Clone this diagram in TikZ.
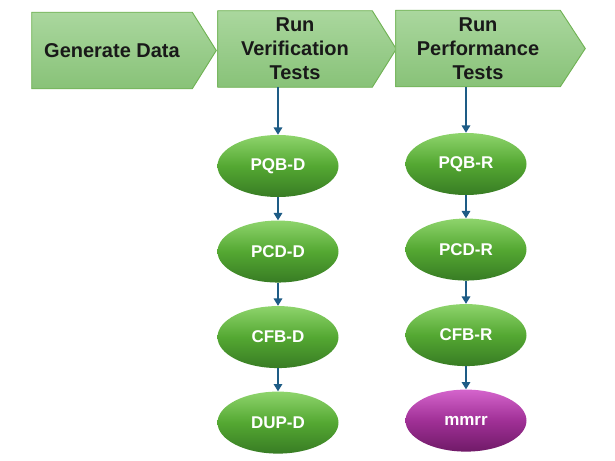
\documentclass[tikz,border=0pt]{standalone}
\usepackage{fontspec}
\setmainfont{Liberation Sans}
\usetikzlibrary{shapes.geometric,positioning,arrows.meta,backgrounds}

\definecolor{stagetop}{RGB}{170,215,158}
\definecolor{stagebot}{RGB}{136,194,120}
\definecolor{stageline}{RGB}{112,178,84}
\definecolor{greentop}{RGB}{142,212,108}
\definecolor{greenmid}{RGB}{84,168,50}
\definecolor{greenbot}{RGB}{56,124,36}
\definecolor{mmrrtop}{RGB}{212,100,204}
\definecolor{mmrrmid}{RGB}{160,48,150}
\definecolor{mmrrbot}{RGB}{112,26,104}
\definecolor{flowline}{RGB}{30,92,134}

\tikzset{
  stagetext/.style={inner sep=0pt, font=\bfseries\fontsize{15pt}{18pt}\selectfont,
    text=black!90, align=center, minimum height=57pt},
  stageshape/.style={draw=stageline, line width=0.7pt, top color=stagetop, bottom color=stagebot},
  task/.style={ellipse, inner sep=0pt, minimum width=90.75pt, minimum height=46.5pt,
    font=\bfseries\fontsize{12.75pt}{15pt}\selectfont, text=white,
    top color=greentop, bottom color=greenbot, middle color=greenmid},
  refrun/.style={task, top color=mmrrtop, bottom color=mmrrbot, middle color=mmrrmid},
  flow/.style={draw=flowline, line width=0.9pt, -{Triangle[width=6.5pt,length=5.5pt]}},
}

\begin{document}
\begin{tikzpicture}[x=0.75pt, y=-0.75pt, node distance=17.25pt]
  \useasboundingbox (0,0) rectangle (615,461);

  % pipeline stages
  \node[stagetext, minimum width=120pt] (gen) at (112,50.5) {Generate Data};
  \node[stagetext, minimum width=115.5pt] (ver) at (295,49) {Run\\Verification\\Tests};
  \node[stagetext, minimum width=123pt] (perf) at (478,48.5) {Run\\Performance\\Tests};

  \begin{scope}[on background layer]
    \foreach \s/\d in {gen/18pt,ver/18pt,perf/18.75pt}{
      \path[stageshape] (\s.north west) -- (\s.north east) -- ([xshift=\d]\s.east)
        -- (\s.south east) -- (\s.south west) -- cycle;
    }
  \end{scope}

  % verification tests
  \node[task] (pqbd) at (278,166) {PQB-D};
  \node[task, below=of pqbd] (pcdd) {PCD-D};
  \node[task, below=of pcdd] (cfbd) {CFB-D};
  \node[task, below=of cfbd] (dupd) {DUP-D};

  % performance tests
  \node[task] (pqbr) at (466,164) {PQB-R};
  \node[task, below=of pqbr] (pcdr) {PCD-R};
  \node[task, below=of pcdr] (cfbr) {CFB-R};
  \node[refrun, below=of cfbr] (mmrr) {mmrr};

  \draw[flow] (pqbd.north |- ver.south) -- (pqbd);
  \draw[flow] (pqbd) -- (pcdd);
  \draw[flow] (pcdd) -- (cfbd);
  \draw[flow] (cfbd) -- (dupd);

  \draw[flow] (pqbr.north |- perf.south) -- (pqbr);
  \draw[flow] (pqbr) -- (pcdr);
  \draw[flow] (pcdr) -- (cfbr);
  \draw[flow] (cfbr) -- (mmrr);
\end{tikzpicture}
\end{document}
